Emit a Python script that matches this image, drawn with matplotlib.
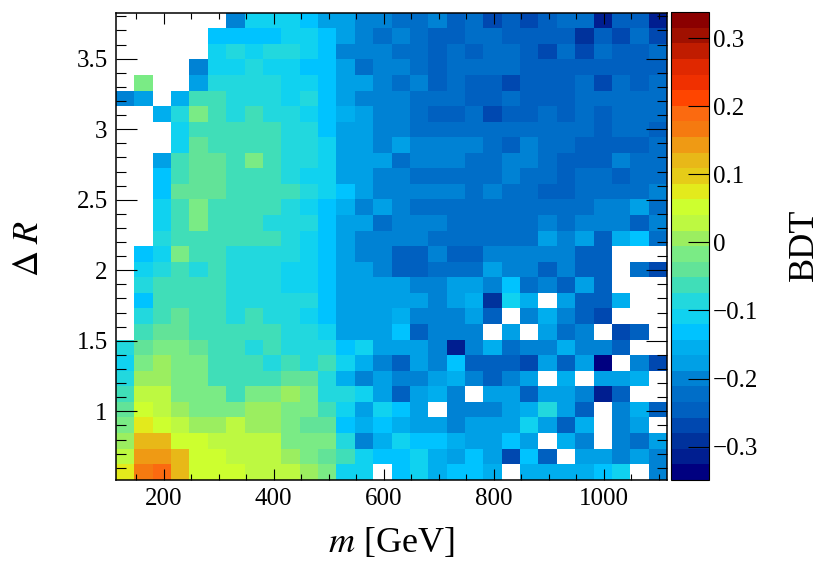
import numpy as np
import matplotlib
matplotlib.use('Agg')
import matplotlib.pyplot as plt
from matplotlib.colors import ListedColormap, Normalize
from matplotlib.ticker import MultipleLocator, FuncFormatter

plt.rcParams['font.family'] = ['Liberation Serif', 'DejaVu Serif']
plt.rcParams['mathtext.fontset'] = 'stix'

N = np.nan
x_min, x_max, n_x = 113.5, 1114.5, 30
y_min, y_max, n_y = 0.515, 3.826, 30

# BDT values in hundredths; first row is the top of the plot
bdt_top_down = [
 [N,N,N,N,N,N,-20,-11,-11,-11,-13,-18,-18,-20,-20, -22,-22,-20,-25,-22,-27,-25,-27,-25,-22,-22,-32,-25,-25,-32],
 [N,N,N,N,N,-13,-13,-13,-13,-11,-11,-13,-18,-20,-22, -20,-22,-25,-25,-22,-22,-25,-25,-25,-25,-29,-25,-27,-22,-27],
 [N,N,N,N,N,-11,-9,-11,-9,-9,-11,-13,-20,-20,-20, -22,-22,-25,-22,-25,-22,-22,-25,-27,-22,-27,-22,-25,-25,-22],
 [N,N,N,N,-20,-11,-11,-9,-11,-11,-13,-13,-18,-22,-20, -20,-22,-25,-22,-22,-22,-22,-25,-25,-25,-25,-25,-25,-25,-25],
 [N,-2,N,N,-18,-9,-9,-9,-9,-11,-11,-13,-18,-18,-20, -22,-20,-25,-22,-25,-25,-27,-25,-25,-25,-22,-27,-22,-25,-22],
 [-20,-18,N,-16,-6,-6,-9,-9,-9,-11,-9,-13,-18,-20,-20, -20,-22,-22,-22,-25,-25,-22,-25,-25,-25,-22,-22,-22,-22,-22],
 [N,N,-16,-9,-2,-6,-9,-6,-9,-9,-11,-13,-16,-18,-20, -20,-22,-25,-25,-22,-27,-25,-25,-22,-25,-22,-25,-22,-22,-22],
 [N,N,N,-11,-6,-6,-6,-6,-6,-9,-9,-13,-18,-18,-20, -20,-22,-22,-22,-22,-22,-22,-22,-22,-22,-22,-25,-22,-22,-25],
 [N,N,N,-11,-4,-6,-6,-6,-6,-9,-9,-11,-18,-18,-20, -18,-20,-20,-20,-20,-22,-25,-20,-22,-22,-25,-25,-25,-25,-22],
 [N,N,-18,-6,-4,-4,-6,-2,-6,-9,-9,-11,-18,-18,-18, -22,-20,-20,-20,-22,-22,-20,-20,-22,-25,-25,-25,-20,-22,-22],
 [N,N,-13,-6,-4,-4,-6,-6,-6,-9,-11,-11,-18,-18,-20, -20,-22,-22,-22,-22,-22,-20,-22,-22,-25,-22,-22,-25,-22,-22],
 [N,N,-13,-4,-4,-4,-6,-6,-6,-6,-9,-11,-13,-18,-20, -20,-20,-20,-20,-22,-20,-22,-22,-25,-25,-22,-22,-22,-22,-20],
 [N,N,-11,-6,-2,-6,-6,-6,-6,-9,-11,-13,-16,-20,-18, -20,-22,-22,-22,-22,-22,-22,-22,-22,-22,-22,-20,-20,-18,-22],
 [N,N,-11,-6,-2,-6,-6,-6,-9,-9,-9,-13,-18,-18,-22, -20,-20,-20,-22,-22,-22,-22,-22,-20,-22,-20,-20,-20,-25,-20],
 [N,N,-9,-6,-6,-6,-6,-6,-6,-9,-11,-13,-18,-20,-20, -20,-20,-22,-22,-22,-22,-22,-22,-18,-20,-18,-25,-16,-13,-22],
 [N,-13,-11,-2,-6,-6,-9,-9,-9,-9,-11,-13,-18,-20,-20, -25,-25,-20,-25,-25,-20,-20,-20,-20,-20,-25,-25,N,N,N],
 [N,-11,-9,-6,-9,-6,-9,-9,-9,-11,-11,-13,-18,-18,-20, -25,-25,-22,-22,-22,-18,-20,-20,-25,-20,-25,-25,N,-22,-27],
 [N,-9,-6,-6,-6,-6,-9,-9,-9,-11,-11,-13,-18,-18,-18, -18,-20,-20,-18,-18,-20,-13,-22,-20,-25,-18,-25,N,N,N],
 [N,-13,-6,-6,-6,-6,-9,-9,-9,-9,-9,-13,-18,-18,-18, -18,-18,-20,-18,-16,-29,-11,-16,N,-18,-25,-25,-16,N,N],
 [N,-9,-6,-4,-6,-6,-9,-6,-9,-9,-11,-13,-18,-18,-18, -16,-20,-20,-20,-18,-25,N,-20,-16,-20,-25,-27,N,N,N],
 [N,-6,-4,-4,-6,-6,-6,-6,-6,-9,-9,-11,-18,-18,-18, -13,-25,-20,-20,-20,N,-18,N,-18,-22,-20,N,-27,-25,N],
 [-9,-4,-2,-2,-4,-6,-6,-9,-6,-9,-9,-9,-13,-11,-18, -18,-18,-20,-32,-20,-16,-22,-20,-20,-16,-20,-20,-25,N,N],
 [-11,-2,1,-2,-2,-6,-6,-6,-9,-6,-9,-6,-11,-16,-20, -25,-18,-20,-13,-25,-25,-25,-27,-18,-25,-18,-34,N,-20,-27],
 [-9,1,1,-2,-2,-6,-6,-6,-6,-4,-4,-9,-16,-20,-18, -20,-20,-18,-16,-20,-25,-20,-18,N,-16,N,-18,-18,-16,N],
 [-6,3,3,-2,-2,-2,-6,-2,-2,1,-2,-9,-9,-11,-18, -25,-18,-16,-20,N,-18,-18,-25,-18,-18,-20,-32,-25,N,N],
 [-4,5,3,1,-2,-2,-2,1,1,-2,-2,-6,-11,-18,-11, -13,-18,N,-20,-20,-20,-18,-16,-9,-18,-25,N,-20,-16,-25],
 [-2,7,5,3,1,1,3,1,1,-2,-4,-4,-13,-16,-13, -16,-18,-18,-20,-18,-18,-18,-11,-18,-25,-16,N,-20,-18,N],
 [1,12,12,5,5,3,3,3,3,-2,-2,-2,-9,-20,-16, -11,-13,-13,-16,-18,-18,-13,-18,N,-16,-20,N,-20,-22,-18],
 [3,14,14,12,5,5,3,3,3,1,-2,-4,-6,-11,-13, -13,-11,-16,-18,-13,-18,-27,-13,-25,N,-18,-18,-20,-18,-20],
 [7,17,19,12,5,5,5,3,3,3,1,-2,-11,-11,N, -13,-11,-16,-13,-13,-16,N,-16,-16,-16,-16,-13,-11,N,-20],
]

band_colors = ['#000080','#001e90','#00329c','#0048b0','#0060c0','#006ec8','#0082d4','#00a0e6',
               '#00aeee','#00c3ff','#10d2f0','#22d8de','#40deb8','#62e398','#7aeb85','#9bee60',
               '#bdf941','#cdff2f','#e3ea1c','#e6cc18','#e8b818','#ef9a14','#f57a10','#fb6a10',
               '#ff4500','#f03000','#e02800','#c01c00','#a01000','#8b0000']
z_min, z_max = -0.349, 0.338

W, H = 830, 563
fig = plt.figure(figsize=(W/100, H/100), dpi=100)
ax = fig.add_axes([116/W, 1-479.7/H, (667-116)/W, (479.7-12.7)/H])
cax = fig.add_axes([671.3/W, 1-480/H, (709-671.3)/W, (480-12.3)/H])

Z = np.array(bdt_top_down, dtype=float)[::-1] / 100
xe = np.linspace(x_min, x_max, n_x+1)
ye = np.linspace(y_min, y_max, n_y+1)
cmap = ListedColormap(band_colors)
norm = Normalize(z_min, z_max)
m = ax.pcolormesh(xe, ye, np.ma.masked_invalid(Z), cmap=cmap, norm=norm, antialiased=False)
ax.set_xlim(x_min, x_max)
ax.set_ylim(y_min, y_max)

ax.xaxis.set_major_locator(MultipleLocator(200))
ax.xaxis.set_minor_locator(MultipleLocator(50))
ax.yaxis.set_major_locator(MultipleLocator(0.5))
ax.yaxis.set_minor_locator(MultipleLocator(0.1))
ax.yaxis.set_major_formatter(FuncFormatter(lambda v, p: f'{v:g}'))
ax.tick_params(axis='x', which='major', direction='in', top=True, bottom=True, length=8, width=0.8, labelsize=18, pad=6)
ax.tick_params(axis='x', which='minor', direction='in', top=True, bottom=True, length=4, width=0.8)
ax.tick_params(axis='y', which='major', direction='in', left=True, right=True, length=15, width=0.8, labelsize=18, pad=6)
ax.tick_params(axis='y', which='minor', direction='in', left=True, right=True, length=7.5, width=0.8)
for s in ax.spines.values():
    s.set_linewidth(1.1)

cb = fig.colorbar(m, cax=cax)
cb.set_ticks([-0.3, -0.2, -0.1, 0, 0.1, 0.2, 0.3])
cb.ax.yaxis.set_major_formatter(FuncFormatter(lambda v, p: f'{v:g}'.replace('-', '\u2212')))
cb.ax.tick_params(direction='in', length=15, width=0.8, labelsize=18, pad=3, right=True, left=False)
cb.outline.set_linewidth(0.8)
cb.ax.minorticks_off()

fig.text(391/W, 1-543/H, r'$m$ [GeV]', fontsize=26, ha='center', va='center')
fig.text(30/W, 1-249/H, r'$\Delta\;R$', fontsize=26, ha='center', va='center', rotation=90)
fig.text(804/W, 1-245/H, 'BDT', fontsize=26, ha='center', va='center', rotation=90)

fig.savefig('out.png', dpi=100)
